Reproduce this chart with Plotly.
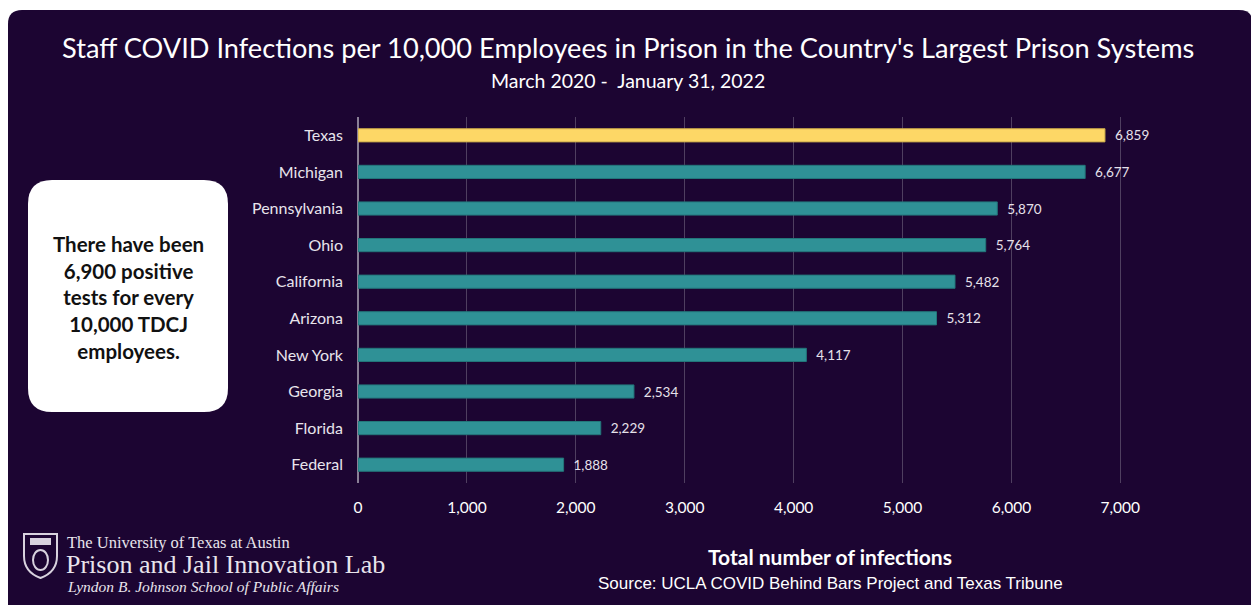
import plotly.graph_objects as go

# ---- data ----
states = ["Texas", "Michigan", "Pennsylvania", "Ohio", "California",
          "Arizona", "New York", "Georgia", "Florida", "Federal"]
infections = [6859, 6677, 5870, 5764, 5482, 5312, 4117, 2534, 2229, 1888]
tick_vals = [0, 1000, 2000, 3000, 4000, 5000, 6000, 7000]
tick_text = ["0", "1,000", "2,000", "3,000", "4,000", "5,000", "6,000", "7,000"]

BG = "#1c0532"
TEAL = "#2f9196"
YELLOW = "#fdd766"
W, H = 1251, 605
L, T = 358, 117
R = W - 1153
B = H - 483

def px(x):
    # image pixel x -> paper coordinate
    return (x - L) / (W - L - R)

def py(y):
    # image pixel y -> paper coordinate
    return (H - B - y) / (H - T - B)

colors = [YELLOW if s == "Texas" else TEAL for s in states]
line_colors = ["#c9a94a" if s == "Texas" else "#23767a" for s in states]

fig = go.Figure()
fig.add_trace(go.Bar(
    x=infections, y=states, orientation="h",
    marker=dict(color=colors, line=dict(color=line_colors, width=1)),
    width=0.36,
    text=[f"  {v:,}" for v in infections],
    textposition="outside",
    constraintext="none",
    textfont=dict(color="#e6e1ea", size=13.5, family="Lato"),
    cliponaxis=False,
    hoverinfo="skip",
))

def rounded_rect(x0, y0, x1, y1, r):
    X, Y = px, py
    return (f"M {X(x0+r)},{Y(y0)} L {X(x1-r)},{Y(y0)} "
            f"Q {X(x1)},{Y(y0)} {X(x1)},{Y(y0+r)} L {X(x1)},{Y(y1-r)} "
            f"Q {X(x1)},{Y(y1)} {X(x1-r)},{Y(y1)} L {X(x0+r)},{Y(y1)} "
            f"Q {X(x0)},{Y(y1)} {X(x0)},{Y(y1-r)} L {X(x0)},{Y(y0+r)} "
            f"Q {X(x0)},{Y(y0)} {X(x0+r)},{Y(y0)} Z")

ICON = "#d8d2de"
shapes = [
    dict(type="path", xref="paper", yref="paper",
         path=rounded_rect(8, 10, 1253, 640, 14),
         fillcolor=BG, line=dict(width=0), layer="below"),
    dict(type="path", xref="paper", yref="paper",
         path=rounded_rect(28, 180, 228, 412, 24),
         fillcolor="white", line=dict(width=0), layer="above"),
    # shield icon
    dict(type="path", xref="paper", yref="paper",
         path=(f"M {px(24)},{py(534)} L {px(57)},{py(534)} L {px(57)},{py(556)} "
               f"Q {px(57)},{py(572)} {px(40.5)},{py(578)} "
               f"Q {px(24)},{py(572)} {px(24)},{py(556)} Z"),
         fillcolor="rgba(0,0,0,0)", line=dict(color=ICON, width=2), layer="above"),
    dict(type="rect", xref="paper", yref="paper",
         x0=px(30), x1=px(51), y0=py(545), y1=py(538),
         fillcolor=ICON, line=dict(width=0), layer="above"),
    dict(type="circle", xref="paper", yref="paper",
         x0=px(33), x1=px(48), y0=py(570), y1=py(550),
         fillcolor="rgba(0,0,0,0)", line=dict(color=ICON, width=2), layer="above"),
]

annotations = [
    dict(text="Staff COVID Infections per 10,000 Employees in Prison in the Country's Largest Prison Systems",
         x=px(628), y=py(48), xref="paper", yref="paper", showarrow=False,
         font=dict(size=27.2, color="white", family="Lato"), xanchor="center", yanchor="middle"),
    dict(text="March 2020 -  January 31, 2022",
         x=px(628), y=py(80), xref="paper", yref="paper", showarrow=False,
         font=dict(size=19.5, color="white", family="Lato"), xanchor="center", yanchor="middle"),
    dict(text="<b>There have been<br>6,900 positive<br>tests for every<br>10,000 TDCJ<br>employees.</b>",
         x=px(128), y=py(297), xref="paper", yref="paper", showarrow=False,
         font=dict(size=20.5, color="#111111", family="Lato"), xanchor="center", yanchor="middle",
         align="center"),
    dict(text="<b>Total number of infections</b>",
         x=px(830), y=py(556), xref="paper", yref="paper", showarrow=False,
         font=dict(size=21, color="white", family="Lato"), xanchor="center", yanchor="middle"),
    dict(text="Source: UCLA COVID Behind Bars Project and Texas Tribune",
         x=px(830), y=py(583), xref="paper", yref="paper", showarrow=False,
         font=dict(size=17, color="white", family="Liberation Sans"), xanchor="center", yanchor="middle"),
    dict(text="The University of Texas at Austin",
         x=px(66), y=py(542), xref="paper", yref="paper", showarrow=False, borderpad=0,
         font=dict(size=16.5, color="#e8e4ec", family="Liberation Serif"), xanchor="left", yanchor="middle"),
    dict(text="Prison and Jail Innovation Lab",
         x=px(65), y=py(564), xref="paper", yref="paper", showarrow=False, borderpad=0,
         font=dict(size=26, color="#e8e4ec", family="Liberation Serif"), xanchor="left", yanchor="middle"),
    dict(text="<i>Lyndon B. Johnson School of Public Affairs</i>",
         x=px(66), y=py(586), xref="paper", yref="paper", showarrow=False, borderpad=0,
         font=dict(size=15.5, color="#e8e4ec", family="Liberation Serif"), xanchor="left", yanchor="middle"),
]

fig.update_layout(
    width=W, height=H,
    margin=dict(l=L, r=R, t=T, b=B),
    paper_bgcolor="white",
    plot_bgcolor="rgba(0,0,0,0)",
    showlegend=False,
    shapes=shapes,
    annotations=annotations,
    xaxis=dict(range=[0, 7300], tickvals=tick_vals, ticktext=tick_text,
               showgrid=True, gridcolor="#4f3f60", gridwidth=1,
               zeroline=True, zerolinecolor="#8a7f96", zerolinewidth=2,
               tickfont=dict(size=15.5, color="white", family="Lato"),
               ticks="", ticklabelstandoff=13, fixedrange=True),
    yaxis=dict(autorange="reversed", showgrid=False, zeroline=False,
               tickfont=dict(size=16, color="#e8e4ec", family="Lato"),
               ticks="", ticklabelstandoff=14, fixedrange=True),
)

fig.write_html(
    "out.html",
    config={"displayModeBar": False},
    post_script="document.body.style.margin='0';document.body.style.overflow='hidden';",
)
